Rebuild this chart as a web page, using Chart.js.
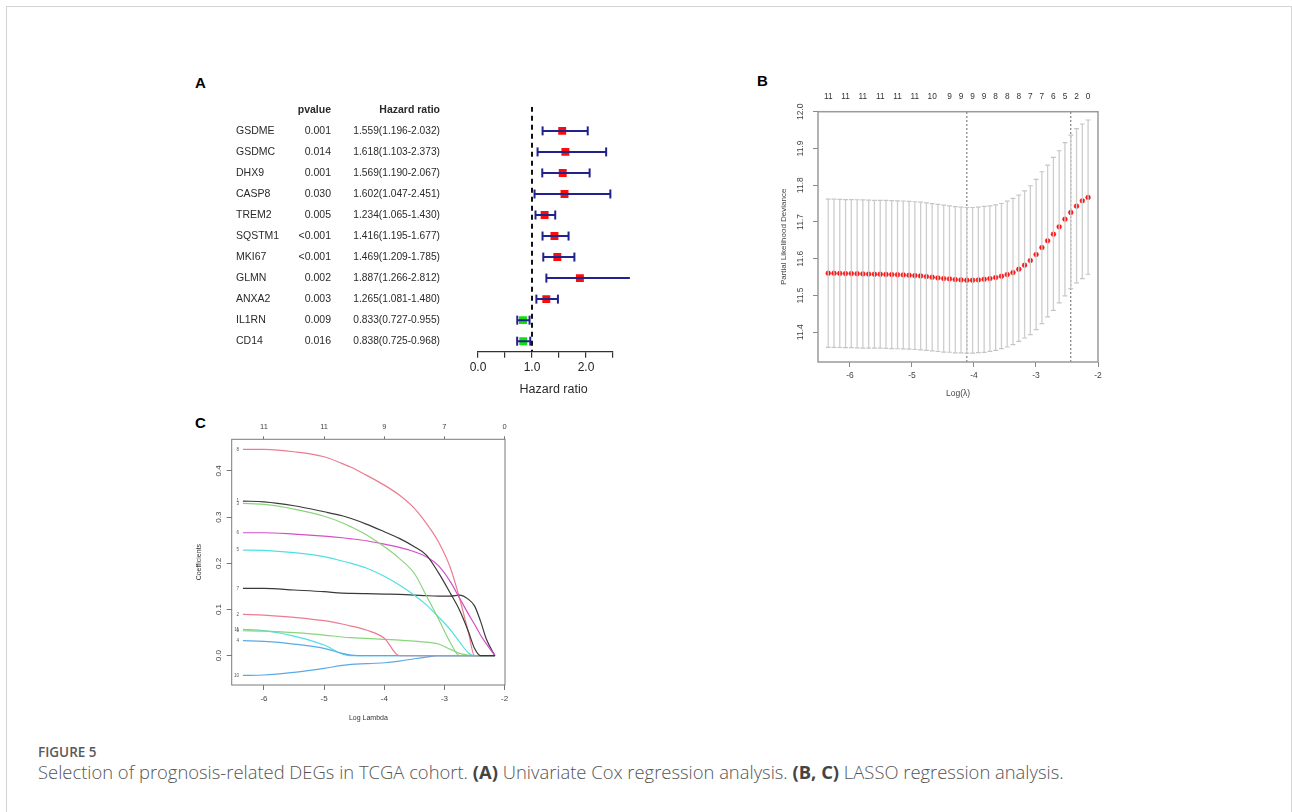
<!DOCTYPE html>
<html><head><meta charset="utf-8">
<script src="https://cdn.jsdelivr.net/npm/chart.js@4.4.0/dist/chart.umd.min.js"></script>
<style>
html,body{margin:0;padding:0;background:#fff;}
body{width:1292px;height:812px;position:relative;overflow:hidden;font-family:'Liberation Sans',Arial,sans-serif;}
.frame{position:absolute;left:6px;top:6px;width:1286px;height:830px;border:1.5px solid #d4d4d4;box-sizing:border-box;}
canvas{position:absolute;}
.letter{position:absolute;font-weight:bold;font-size:15px;color:#000;line-height:1;}
.figlab{position:absolute;left:38px;top:744px;font-family:'Open Sans';font-weight:600;font-size:13.5px;line-height:16px;color:#5a5a5a;}
.caption{position:absolute;left:38px;top:762px;font-family:'Open Sans';font-weight:300;font-size:18.4px;line-height:20px;color:#555;white-space:nowrap;}
.caption b{font-weight:700;color:#444;}
</style></head>
<body>
<div class="frame"></div>
<div class="letter" style="left:195px;top:75px;">A</div>
<div class="letter" style="left:757px;top:73px;">B</div>
<div class="letter" style="left:195px;top:415px;">C</div>
<canvas id="cA" width="450" height="340" style="left:190px;top:70px;width:450px;height:340px;"></canvas>
<canvas id="cB" width="350" height="330" style="left:760px;top:80px;width:350px;height:330px;"></canvas>
<canvas id="cC" width="330" height="320" style="left:190px;top:412px;width:330px;height:320px;"></canvas>
<div class="figlab">FIGURE 5</div>
<div class="caption">Selection of prognosis-related DEGs in TCGA cohort. <b>(A)</b> Univariate Cox regression analysis. <b>(B, C)</b> LASSO regression analysis.</div>
<script>
// ---------- Panel A data ----------
const genes = ['GSDME','GSDMC','DHX9','CASP8','TREM2','SQSTM1','MKI67','GLMN','ANXA2','IL1RN','CD14'];
const pvalues = ['0.001','0.014','0.001','0.030','0.005','<0.001','<0.001','0.002','0.003','0.009','0.016'];
const hr = [1.559,1.618,1.569,1.602,1.234,1.416,1.469,1.887,1.265,0.833,0.838];
const hrLow = [1.196,1.103,1.190,1.047,1.065,1.195,1.209,1.266,1.081,0.727,0.725];
const hrHigh = [2.032,2.373,2.067,2.451,1.430,1.677,1.785,2.812,1.480,0.955,0.968];
const hrTicks = [0,0.5,1,1.5,2,2.5];
const hrRef = 1;

// ---------- Panel B data ----------
const lambdaLog = [-6.350,-6.257,-6.164,-6.071,-5.978,-5.884,-5.791,-5.698,-5.605,-5.512,-5.419,-5.326,-5.233,-5.140,-5.046,-4.953,-4.860,-4.767,-4.674,-4.581,-4.488,-4.395,-4.302,-4.209,-4.115,-4.022,-3.929,-3.836,-3.743,-3.650,-3.557,-3.464,-3.371,-3.277,-3.184,-3.091,-2.998,-2.905,-2.812,-2.719,-2.626,-2.533,-2.439,-2.346,-2.253,-2.160];
const cvMean = [11.5605,11.5605,11.5600,11.5596,11.5596,11.5591,11.5587,11.5582,11.5578,11.5578,11.5573,11.5569,11.5564,11.5560,11.5550,11.5541,11.5532,11.5514,11.5496,11.5478,11.5460,11.5450,11.5432,11.5423,11.5414,11.5414,11.5423,11.5441,11.5460,11.5487,11.5523,11.5569,11.5623,11.5714,11.5823,11.5950,11.6114,11.6304,11.6486,11.6668,11.6867,11.7076,11.7258,11.7430,11.7576,11.7667];
const cvUpper = [11.7620,11.7620,11.7615,11.7610,11.7610,11.7605,11.7600,11.7595,11.7590,11.7590,11.7585,11.7580,11.7575,11.7570,11.7560,11.7550,11.7540,11.7520,11.7500,11.7480,11.7460,11.7440,11.7420,11.7405,11.7394,11.7394,11.7403,11.7422,11.7440,11.7467,11.7503,11.7567,11.7640,11.7730,11.7848,11.7985,11.8157,11.8366,11.8548,11.8757,11.8938,11.9156,11.9365,11.9538,11.9665,11.9774];
const cvLower = [11.3590,11.3590,11.3585,11.3580,11.3580,11.3575,11.3570,11.3570,11.3565,11.3565,11.3560,11.3555,11.3550,11.3545,11.3540,11.3530,11.3520,11.3505,11.3490,11.3475,11.3460,11.3455,11.3440,11.3438,11.3434,11.3434,11.3443,11.3452,11.3480,11.3507,11.3552,11.3598,11.3661,11.3752,11.3843,11.3934,11.4070,11.4234,11.4416,11.4597,11.4797,11.4987,11.5187,11.5341,11.5460,11.5578];
const nzeroPos = [-6.350,-6.071,-5.791,-5.512,-5.233,-4.953,-4.674,-4.395,-4.209,-4.022,-3.836,-3.650,-3.464,-3.277,-3.091,-2.905,-2.719,-2.533,-2.346,-2.160];
const nzeroLab = ['11','11','11','11','11','11','10','9','9','9','9','8','8','8','7','7','6','5','2','0'];
const lambdaMin = -4.115, lambda1se = -2.439;
const devTicks = [11.4,11.5,11.6,11.7,11.8,11.9,12.0];
const logTicksB = [-6,-5,-4,-3,-2];

// ---------- Panel C data ----------
const logLambdaC = [-6.35,-6.0,-5.5,-5.0,-4.7,-4.55,-4.3,-4.0,-3.75,-3.5,-3.3,-3.1,-2.9,-2.75,-2.6,-2.5,-2.4,-2.3,-2.16];
const coef1  = [0.3348,0.3333,0.3247,0.3117,0.3030,0.2970,0.2850,0.2684,0.2540,0.2360,0.2179,0.1800,0.1350,0.0990,0.0520,0.0160,0,0,0];
const coef2  = [0.0895,0.0881,0.0830,0.0758,0.0686,0.0642,0.0556,0.0380,0,0,0,0,0,0,0,0,0,0,0];
const coef3  = [0.3298,0.3277,0.3176,0.3020,0.2880,0.2790,0.2620,0.2360,0.2107,0.1780,0.1300,0.0800,0.0280,0,0,0,0,0,0];
const coef4  = [0.0325,0.0310,0.0253,0.0159,0.0050,0.0014,0,0,0,0,0,0,0,0,0,0,0,0,0];
const coef5  = [0.2288,0.2281,0.2231,0.2144,0.2050,0.2000,0.1900,0.1720,0.1530,0.1310,0.1100,0.0840,0.0560,0.0300,0.0060,0,0,0,0];
const coef6  = [0.2663,0.2663,0.2634,0.2590,0.2554,0.2532,0.2489,0.2417,0.2345,0.2251,0.2143,0.1950,0.1600,0.1250,0.0900,0.0680,0.0450,0.0250,0];
const coef7  = [0.1459,0.1459,0.1423,0.1386,0.1355,0.1350,0.1343,0.1335,0.1328,0.1314,0.1300,0.1292,0.1292,0.1314,0.1220,0.1080,0.0750,0.0350,0];
const coef8  = [0.4470,0.4467,0.4416,0.4308,0.4160,0.4080,0.3910,0.3694,0.3478,0.3190,0.2865,0.2469,0.1900,0.1250,0.0500,0,0,0,0];
const coef9  = [0.0541,0.0534,0.0498,0.0448,0.0405,0.0390,0.0375,0.0354,0.0339,0.0317,0.0296,0.0253,0.0137,0.0050,0.0014,0,0,0,0];
const coef10 = [-0.0425,-0.0418,-0.0360,-0.0274,-0.0210,-0.0188,-0.0173,-0.0152,-0.0115,-0.0065,-0.0029,0,0,0,0,0,0,0,0];
const coef11 = [0.0571,0.0542,0.0426,0.0231,0.0040,0,0,0,0,0,0,0,0,0,0,0,0,0,0];
const coefTicks = [0,0.1,0.2,0.3,0.4];
const logTicksC = [-6,-5,-4,-3,-2];
const dfLabelsC = ['11','11','9','7','0'];

Chart.defaults.font.family = "'Liberation Sans', Arial, sans-serif";
Chart.defaults.animation = false;
Chart.defaults.plugins.legend.display = false;
Chart.defaults.plugins.tooltip.enabled = false;

// ================= Panel A =================
const navy = '#22228c';
const ciData = [], capData = [];
genes.forEach((g,i)=>{
  ciData.push({x:hrLow[i],y:i},{x:hrHigh[i],y:i},{x:null,y:null});
  capData.push({x:hrLow[i],y:i},{x:hrHigh[i],y:i});
});
const hrData = genes.map((g,i)=>({x:hr[i],y:i}));
const yMinA = -1.15, yMaxA = 10.5;
const tableA = {
  id:'tableA',
  afterDraw(chart){
    const {ctx, scales:{x,y}, chartArea} = chart;
    ctx.save();
    ctx.fillStyle = '#2a2a2a';
    ctx.textBaseline = 'middle';
    const yh = y.getPixelForValue(-1);
    ctx.font = "bold 10.5px 'Liberation Sans'";
    ctx.textAlign = 'right';
    ctx.fillText('pvalue', 141, yh);
    ctx.fillText('Hazard ratio', 250, yh);
    genes.forEach((g,i)=>{
      const py = y.getPixelForValue(i);
      ctx.font = "10.5px 'Liberation Sans'";
      ctx.textAlign = 'left'; ctx.fillText(g, 46, py);
      ctx.textAlign = 'right'; ctx.fillText(pvalues[i], 141, py);
      ctx.font = "10.2px 'Liberation Sans'";
      ctx.fillText(hr[i].toFixed(3)+'('+hrLow[i].toFixed(3)+'-'+hrHigh[i].toFixed(3)+')', 250, py);
    });
    ctx.font = "12.5px 'Liberation Sans'";
    ctx.textAlign = 'center';
    ctx.fillText('Hazard ratio', x.getPixelForValue(1.4), chartArea.bottom + 38);
    ctx.restore();
  }
};
new Chart(document.getElementById('cA'), {
  type:'scatter',
  data:{datasets:[
    {type:'line', data:[{x:hrRef,y:yMinA},{x:hrRef,y:yMaxA}], borderColor:'#111', borderWidth:2, borderDash:[5,4], pointRadius:0},
    {type:'line', data:ciData, borderColor:navy, borderWidth:2, pointRadius:0, spanGaps:false, clip:false},
    {type:'scatter', data:capData, pointStyle:'line', pointRotation:90, pointRadius:4.5, pointBorderWidth:2, pointBorderColor:navy, clip:false},
    {type:'scatter', data:hrData, pointStyle:'rect', pointRadius:5.6, pointBackgroundColor:hr.map(v=>v>1?'#ff0a0a':'#10e010'), pointBorderColor:hr.map(v=>v>1?'#ff0a0a':'#10e010'), pointBorderWidth:0}
  ]},
  options:{
    responsive:false,
    layout:{padding:{left:288,right:27,top:36.7,bottom:0}},
    scales:{
      x:{type:'linear', min:0, max:2.5,
        afterBuildTicks:s=>{s.ticks = hrTicks.map(v=>({value:v}));},
        ticks:{callback:v=>Number.isInteger(v)?v.toFixed(1):'', color:'#222', font:{size:12}, padding:3, autoSkip:false, maxRotation:0},
        grid:{display:true, drawOnChartArea:false, drawTicks:true, tickLength:6, color:'#333', lineWidth:1.2},
        border:{display:true, color:'#333', width:1.2},
        afterFit:s=>{s.height = 58.3;}
      },
      y:{type:'linear', display:false, reverse:true, min:yMinA, max:yMaxA}
    }
  },
  plugins:[tableA]
});

// ================= Panel B =================
const boxPlugin = (color, lw) => ({
  id:'box',
  afterDraw(chart){
    const {ctx, chartArea:a} = chart;
    ctx.save(); ctx.strokeStyle = color; ctx.lineWidth = lw;
    ctx.strokeRect(a.left, a.top, a.right-a.left, a.bottom-a.top);
    ctx.restore();
  }
});
const errB = [], capB = [];
lambdaLog.forEach((v,i)=>{
  errB.push({x:v,y:cvLower[i]},{x:v,y:cvUpper[i]},{x:null,y:null});
  capB.push({x:v,y:cvLower[i]},{x:v,y:cvUpper[i]});
});
const meanB = lambdaLog.map((v,i)=>({x:v,y:cvMean[i]}));
const yMinB = 11.319, yMaxB = 12.0;
new Chart(document.getElementById('cB'), {
  type:'scatter',
  data:{datasets:[
    {type:'line', data:errB, borderColor:'#cdcdcd', borderWidth:1.3, pointRadius:0, spanGaps:false},
    {type:'scatter', data:capB, pointStyle:'line', pointRadius:2.4, pointBorderWidth:1.2, pointBorderColor:'#c4c4c4'},
    {type:'line', data:[{x:lambdaMin,y:yMinB},{x:lambdaMin,y:yMaxB}], borderColor:'#666', borderWidth:1, borderDash:[2,2], pointRadius:0},
    {type:'line', data:[{x:lambda1se,y:yMinB},{x:lambda1se,y:yMaxB}], borderColor:'#666', borderWidth:1, borderDash:[2,2], pointRadius:0},
    {type:'scatter', data:meanB, pointStyle:'circle', pointRadius:2.4, pointBackgroundColor:'#ff1414', pointBorderColor:'#ff1414', pointBorderWidth:0.5}
  ]},
  options:{
    responsive:false,
    layout:{padding:{left:0,right:12,top:0,bottom:0}},
    scales:{
      x:{type:'linear', position:'bottom', min:-6.515, max:-2.0,
        afterBuildTicks:s=>{s.ticks = logTicksB.map(v=>({value:v}));},
        ticks:{callback:v=>String(v), color:'#444', font:{size:8.5}, padding:4, autoSkip:false, maxRotation:0},
        grid:{display:true, drawOnChartArea:false, drawTicks:true, tickLength:5, color:'#888', lineWidth:1},
        border:{display:false},
        title:{display:true, text:'Log(\u03bb)', color:'#444', font:{size:8.5}, padding:{top:0,bottom:11}},
        afterFit:s=>{s.height = 48;}
      },
      x2:{type:'linear', position:'top', min:-6.515, max:-2.0,
        afterBuildTicks:s=>{s.ticks = nzeroPos.map(v=>({value:v}));},
        ticks:{callback:(v,i)=>nzeroLab[i], color:'#333', font:{size:8.3}, padding:2, autoSkip:false, maxRotation:0},
        grid:{display:false}, border:{display:false},
        afterFit:s=>{s.height = 31.7;}
      },
      y:{type:'linear', position:'left', min:yMinB, max:yMaxB,
        afterBuildTicks:s=>{s.ticks = devTicks.map(v=>({value:v}));},
        ticks:{callback:v=>v.toFixed(1), color:'#444', font:{size:8.5}, padding:4, autoSkip:false, minRotation:90, maxRotation:90, crossAlign:'center'},
        grid:{display:true, drawOnChartArea:false, drawTicks:true, tickLength:5, color:'#888', lineWidth:1},
        border:{display:false},
        title:{display:true, text:'Partial Likelihood Deviance', color:'#444', font:{size:8}, padding:{top:19,bottom:0}},
        afterFit:s=>{s.width = 58;}
      }
    }
  },
  plugins:[boxPlugin('#9a9a9a',1.5)]
});

// ================= Panel C =================
const coefs = [coef1,coef2,coef3,coef4,coef5,coef6,coef7,coef8,coef9,coef10,coef11];
const rPal = ['#3a3a3a','#EC7C90','#8AD47C','#5AAAE6','#4FE0E2','#D250C6'];
const dsC = coefs.map((c,k)=>({
  type:'line',
  data:logLambdaC.map((v,i)=>({x:v,y:c[i]})),
  borderColor:rPal[k%6], borderWidth:1.2, pointRadius:0, cubicInterpolationMode:'monotone'
}));
const varLabels = {
  id:'varLabels',
  afterDatasetsDraw(chart){
    const {ctx, scales:{x,y}} = chart;
    ctx.save(); ctx.fillStyle = '#555'; ctx.font = "4.5px 'Liberation Sans'";
    ctx.textAlign = 'right'; ctx.textBaseline = 'middle';
    coefs.forEach((c,k)=>{ ctx.fillText(String(k+1), x.getPixelForValue(logLambdaC[0]) - 4, y.getPixelForValue(c[0])); });
    ctx.restore();
  }
};
new Chart(document.getElementById('cC'), {
  type:'scatter',
  data:{datasets:dsC},
  options:{
    responsive:false,
    layout:{padding:{left:0,right:15,top:0,bottom:0}},
    scales:{
      x:{type:'linear', position:'bottom', min:-6.537, max:-1.993,
        afterBuildTicks:s=>{s.ticks = logTicksC.map(v=>({value:v}));},
        ticks:{callback:v=>String(v), color:'#444', font:{size:8}, padding:4, autoSkip:false, maxRotation:0},
        grid:{display:true, drawOnChartArea:false, drawTicks:true, tickLength:5, color:'#777', lineWidth:1},
        border:{display:false},
        title:{display:true, text:'Log Lambda', color:'#333', font:{size:7}, padding:{top:0,bottom:10}},
        afterFit:s=>{s.height = 47;}
      },
      x2:{type:'linear', position:'top', min:-6.537, max:-1.993,
        afterBuildTicks:s=>{s.ticks = logTicksC.map(v=>({value:v}));},
        ticks:{callback:(v,i)=>dfLabelsC[i], color:'#444', font:{size:7.5}, padding:5, autoSkip:false, maxRotation:0},
        grid:{display:true, drawOnChartArea:false, drawTicks:true, tickLength:3, color:'#777', lineWidth:1},
        border:{display:false},
        afterFit:s=>{s.height = 27.3;}
      },
      y:{type:'linear', position:'left', min:-0.0634, max:0.4686,
        afterBuildTicks:s=>{s.ticks = coefTicks.map(v=>({value:v}));},
        ticks:{callback:v=>v.toFixed(1), color:'#444', font:{size:8}, padding:2, autoSkip:false, minRotation:90, maxRotation:90, crossAlign:'center'},
        grid:{display:true, drawOnChartArea:false, drawTicks:true, tickLength:5, color:'#777', lineWidth:1},
        border:{display:false},
        title:{display:true, text:'Coefficients', color:'#333', font:{size:7}, padding:{top:5,bottom:0}},
        afterFit:s=>{s.width = 41.7;}
      }
    }
  },
  plugins:[boxPlugin('#7a7a7a',1), varLabels]
});
</script>
</body></html>
